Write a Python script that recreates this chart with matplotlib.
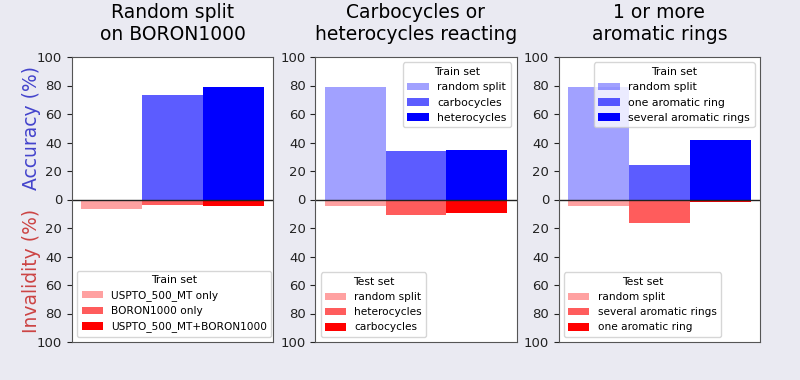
#!/usr/bin/env python

""" accuracy (up) and invalidity (down) for three data splits """

import numpy as np
import matplotlib.pyplot as plt

titles = ["Random split\non BORON1000",
          "Carbocycles or\nheterocycles reacting",
          "1 or more\naromatic rings"]

# accuracy per bar (percent)
acc_boron = [0.0, 73.2, 78.9]
acc_cycles = [78.9, 34.0, 34.7]
acc_arom = [78.9, 24.0, 42.0]

# invalidity per bar (percent)
inv_boron = [6.5, 3.8, 4.9]
inv_cycles = [4.7, 10.8, 9.6]
inv_arom = [4.7, 16.7, 1.6]

train_boron = ["USPTO_500_MT only", "BORON1000 only", "USPTO_500_MT+BORON1000"]
train_cycles = ["random split", "carbocycles", "heterocycles"]
test_cycles = ["random split", "heterocycles", "carbocycles"]
train_arom = ["random split", "one aromatic ring", "several aromatic rings"]
test_arom = ["random split", "several aromatic rings", "one aromatic ring"]

alphas = [0.37, 0.64, 1.0]


def panel(ax, title, acc, inv, top_labels, bottom_labels, bottom_title):
    x = np.arange(len(acc))
    blue = []
    red = []
    for i in range(len(acc)):
        blue.append(ax.bar(x[i], acc[i], width=1.0, color='blue',
                           alpha=alphas[i], linewidth=0))
        red.append(ax.bar(x[i], -inv[i], width=1.0, color='red',
                          alpha=alphas[i], linewidth=0))
    ax.axhline(0, color='#222222', lw=1.0)
    ax.set_ylim(-100, 100)
    ax.set_yticks(np.arange(-100, 101, 20))
    ax.set_yticklabels([str(abs(v)) for v in range(-100, 101, 20)])
    ax.tick_params(axis='y', labelsize=9.5, colors='#222222')
    ax.set_xticks([])
    ax.set_title(title, fontsize=13.5, pad=12)
    for s in ax.spines.values():
        s.set_color('#555555')
    # legends: blue = train set (top), red = bottom
    if top_labels is not None:
        leg = ax.legend(blue, top_labels, title="Train set", loc='upper right',
                        fontsize=7.8, title_fontsize=7.8, borderaxespad=0.5)
        ax.add_artist(leg)
    ax.legend(red, bottom_labels, title=bottom_title, loc='lower left',
              fontsize=7.6, title_fontsize=7.8, borderaxespad=0.5)


def main():
    fig, axes = plt.subplots(1, 3, figsize=(8, 3.8), dpi=100)
    fig.patch.set_facecolor('#eaeaf2')
    fig.subplots_adjust(left=0.09, right=0.95, top=0.85, bottom=0.1,
                        wspace=0.21)

    panel(axes[0], titles[0], acc_boron, inv_boron, None, train_boron,
          "Train set")
    panel(axes[1], titles[1], acc_cycles, inv_cycles, train_cycles,
          test_cycles, "Test set")
    panel(axes[2], titles[2], acc_arom, inv_arom, train_arom, test_arom,
          "Test set")

    axes[0].text(-0.2, 0.75, "Accuracy (%)", color='#4444cc', fontsize=13.5,
                 rotation=90, ha='center', va='center',
                 transform=axes[0].transAxes)
    axes[0].text(-0.2, 0.25, "Invalidity (%)", color='#cc4444', fontsize=13.5,
                 rotation=90, ha='center', va='center',
                 transform=axes[0].transAxes)

    plt.savefig("out.png", dpi=100, facecolor=fig.get_facecolor())


if __name__ == "__main__":
    main()
